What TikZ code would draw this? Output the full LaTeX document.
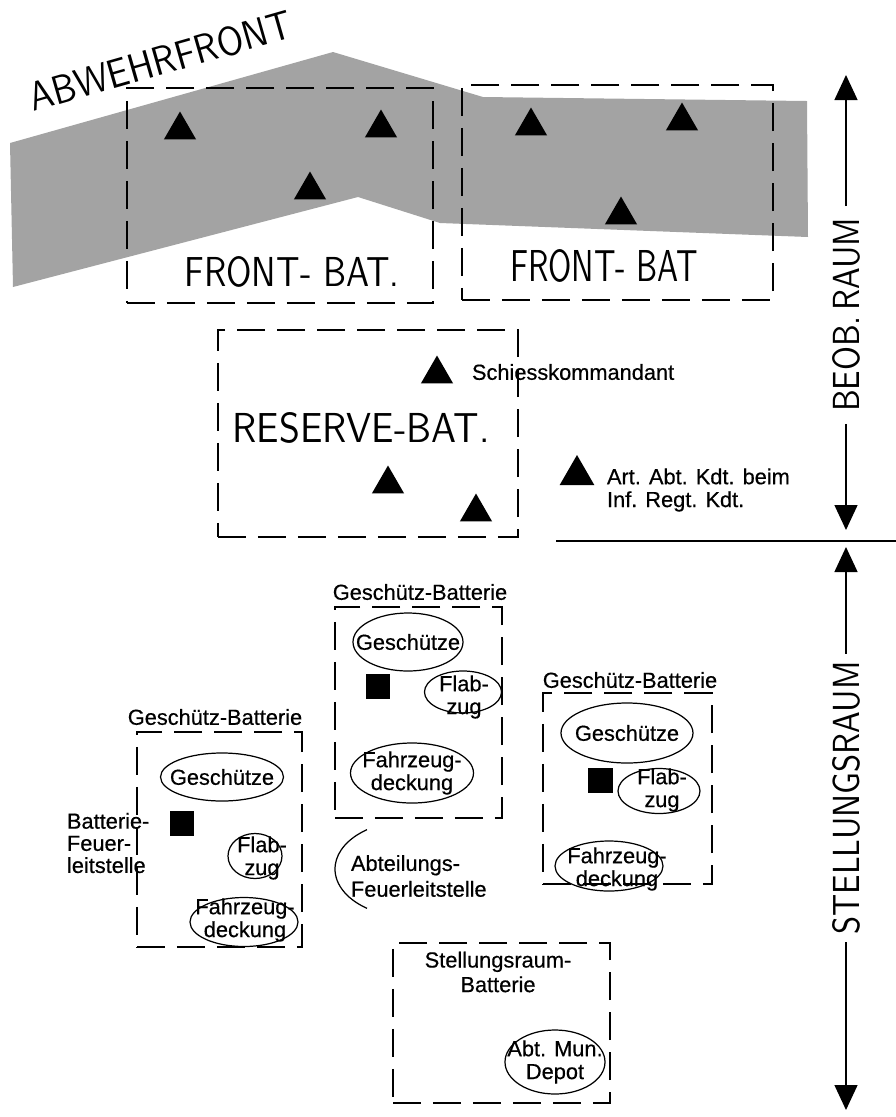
\documentclass[tikz,border=0pt]{standalone}
\usepackage{fontspec}
\setmainfont{Liberation Sans}
\newfontfamily\labfont{Liberation Sans}[FakeBold=0.5]
\usepackage{graphicx}
\usetikzlibrary{shapes.geometric,arrows.meta,fit}
% hand-lettered capitals, stretched to a given width and cap height
\newcommand\handtext[3]{\resizebox{#1}{#2}{\sffamily #3}}
\begin{document}
\begin{tikzpicture}[x=0.02cm, y=-0.02cm,
  every node/.style={inner sep=0pt, outer sep=0pt},
  lab/.style={font=\labfont\fontsize{12.4}{13}\selectfont, align=center},
  band/.style={fill=black!36},
  dbox/.style={draw, line width=0.8pt, dash pattern=on 0.56cm off 0.24cm, inner sep=0pt},
  oval/.style 2 args={draw, ellipse, line width=0.7pt, inner sep=0pt,
    minimum width=#1*0.02cm, minimum height=#2*0.02cm},
  tri/.style={regular polygon, regular polygon sides=3, fill=black, minimum size=0.74cm},
  bigtri/.style={tri, minimum size=0.8cm},
  sq/.style={rectangle, fill=black, minimum size=0.5cm},
  arr/.style={line width=0.8pt, -{Triangle[length=0.5cm,width=0.46cm]}},
  thin/.style={line width=0.8pt},
]
\useasboundingbox (0,0) rectangle (896,1117);

% defence line band
\fill[band] (10,143) -- (333,52) -- (483,97) -- (807,101) -- (808,237)
  -- (440,223) -- (358,197) -- (13,287) -- cycle;
\node[rotate=16] (abwehr) at (160,61) {\handtext{5.44cm}{0.58cm}{ABWEHRFRONT}};

% front battalions
\node[dbox, fit={(127,88) (433,303)}] (fb1) {};
\node[dbox, fit={(462,85) (773,300)}] (fb2) {};
\node (fb1t) at (292,272) {\handtext{4.3cm}{0.6cm}{FRONT- BAT.}};
\node (fb2t) at (604,266) {\handtext{3.76cm}{0.64cm}{FRONT- BAT}};
\node[tri] (t1) at (180,130) {};
\node[tri] (t2) at (381,128) {};
\node[tri] (t3) at (310,190) {};
\node[tri] (t4) at (531,126) {};
\node[tri] (t5) at (682,121) {};
\node[tri] (t6) at (621,215) {};

% reserve battalion
\node[dbox, fit={(218,330) (518,537)}] (rb) {};
\node (rbt) at (361,428) {\handtext{5.14cm}{0.6cm}{RESERVE-BAT.}};
\node[tri] (t7) at (437,374) {};
\node[tri] (t8) at (388,484) {};
\node[tri] (t9) at (476,512) {};
\node[lab, anchor=west] (schiess) at (472,372) {Schiesskommandant};
\node[bigtri] (t10) at (577,475) {};
\node[lab, anchor=west, align=left] (artabt) at (607,490)
  {Art. Abt. Kdt. beim\\Inf. Regt. Kdt.};

% boundary between observation and firing area
\coordinate (hl1) at (556,541);
\coordinate (hl2) at (896,541);
\draw[thin] (hl1) -- (hl2);

% vertical extents
\node[rotate=90, inner xsep=0.24cm] (beob) at (846,315) {\handtext{3.88cm}{0.54cm}{BEOB.\,RAUM}};
\coordinate (beobtop) at (846,75);
\coordinate (beobbot) at (846,530);
\draw[arr] (beob.east) -- (beobtop);
\draw[arr] (beob.west) -- (beobbot);
\node[rotate=90, inner xsep=0.16cm] (stell) at (846,798) {\handtext{5.46cm}{0.54cm}{STELLUNGSRAUM}};
\coordinate (stelltop) at (846,547);
\coordinate (stellbot) at (846,1110);
\draw[arr] (stell.east) -- (stelltop);
\draw[arr] (stell.west) -- (stellbot);

% left gun battery
\node[lab] (gbl) at (215,717) {Geschütz-Batterie};
\node[dbox, fit={(137,732) (302,947)}] (bl) {};
\node[oval={123}{48}] (gl) at (222,777) {};
\node[lab] at (gl) {Geschütze};
\node[sq] (sl) at (182,823) {};
\node[lab, anchor=west, align=left, font=\labfont\fontsize{12.4}{12.6}\selectfont] (bfl) at (67,843)
  {Batterie-\\Feuer-\\leitstelle};
\node[oval={54}{45}] (fl) at (255,856) {};
\node[lab] at (262,858) {Flab-\\zug};
\node[oval={108}{49}] (dl) at (244,922) {};
\node[lab] at (245,920) {Fahrzeug-\\deckung};

% centre gun battery
\node[lab] (gbc) at (420,592) {Geschütz-Batterie};
\node[dbox, fit={(335,607) (502,818)}] (bc) {};
\node[oval={110}{58}] (gc) at (408,642) {};
\node[lab] at (gc) {Geschütze};
\node[sq] (sc) at (378,686) {};
\node[oval={77}{42}] (fc) at (463,692) {};
\node[lab] at (464,697) {Flab-\\zug};
\node[oval={123}{60}] (dc) at (412,773) {};
\node[lab] at (dc) {Fahrzeug-\\deckung};

% right gun battery
\node[lab] (gbr) at (630,680) {Geschütz-Batterie};
\node[dbox, fit={(543,693) (712,884)}] (br) {};
\node[oval={132}{60}] (gr) at (627,733) {};
\node[lab] at (gr) {Geschütze};
\node[sq] (sr) at (600,780) {};
\node[oval={82}{45}] (fr) at (659,791) {};
\node[lab] at (662,790) {Flab-\\zug};
\node[oval={108}{50}] (dr) at (609,866) {};
\node[lab] at (617,869) {Fahrzeug-\\deckung};

% battalion fire direction post
\draw[line width=0.7pt] (410,869) ++(125:75 and 48) arc[start angle=125, end angle=235, x radius=75, y radius=48];
\node[lab, anchor=west, align=left, font=\labfont\fontsize{12.4}{14.7}\selectfont] (afl) at (351,876)
  {Abteilungs-\\Feuerleitstelle};

% firing area battery with ammunition depot
\node[dbox, fit={(393,943) (610,1103)}] (srb) {};
\node[lab, font=\labfont\fontsize{12.4}{14}\selectfont] (srbt) at (498,972) {Stellungsraum-\\Batterie};
\node[oval={100}{64}] (md) at (555,1062) {};
\node[lab] at (md) {Abt. Mun.\\Depot};
\end{tikzpicture}
\end{document}
